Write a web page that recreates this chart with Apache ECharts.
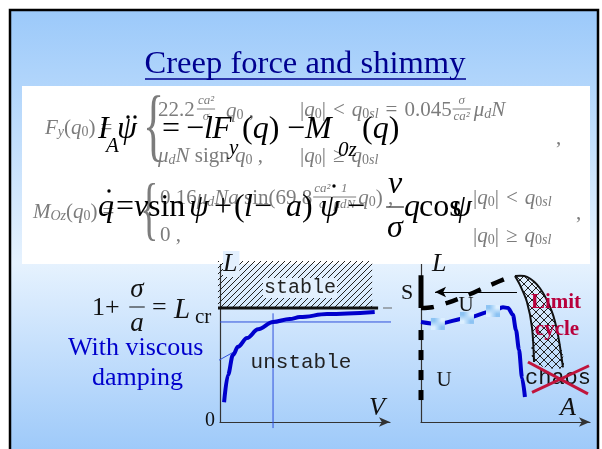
<!DOCTYPE html>
<html><head><meta charset="utf-8">
<script src="https://cdn.jsdelivr.net/npm/echarts@6/dist/echarts.min.js"></script>
<style>html,body{margin:0;padding:0;background:#fff}#c{width:602px;height:449px}</style>
</head><body><div id="c"></div>
<script>
// ---------------- data ----------------
// left diagram: stability boundary L(V)
const L_CR = 1.5;            // 1 + sigma/a
const L_DAMP = 1.316;        // level reached by the damped boundary
const V_MARK = 3.12;         // speed at which the damped boundary reaches L_DAMP
const STABLE_TOP = 2.12;
const STABLE_V_END = 8.95;
const CR_LINE_V = [-0.12, 9.3];
const REF_STUB_V = [9.59, 11.3];
const DAMP_LINE_V = [0, 11.82];
const MARK_LINE_L = [1.43, -0.08];
const dampV = [0.24, 0.47, 0.76, 1.06, 1.59, 2.24, 3.12, 4.1, 4.7, 6.3, 9.1];
const dampL = [0.26, 0.62, 0.88, 0.99, 1.105, 1.22, 1.316, 1.355, 1.38, 1.42, 1.447];
const leaderV = [-1.94, 0.88];
const leaderL = [0.58, 0.93];

// right diagram: amplitude A versus L
const stableSegL = [1.93, 1.5];
const unstableSegL = [1.21, 0.18];
const upperA = [0, 0.65, 1.6, 2.78, 4.08, 5.27];
const upperL = [1.5, 1.51, 1.57, 1.67, 1.80, 1.91];
const branchA = [0, 1.0, 2.72, 4.26, 4.85, 5.15, 5.44, 5.62, 5.8, 5.98, 6.15];
const branchL = [1.316, 1.29, 1.37, 1.46, 1.51, 1.50, 1.41, 1.21, 0.95, 0.58, 0.33];
const branchMarked = [1, 2, 3];
const arrowA = [5.68, 0.83];
const arrowL = [1.71, 1.71];
const cycleLeftA = [5.56, 5.86, 6.27, 6.57, 6.69];
const cycleLeftL = [1.92, 1.80, 1.58, 1.24, 0.79];
const cycleRightA = [8.40, 8.11, 7.75, 7.04, 6.27, 5.56];
const cycleRightL = [0.72, 1.14, 1.45, 1.76, 1.91, 1.92];
const crossA1 = [6.33, 9.88], crossL1 = [0.79, 0.37];
const crossA2 = [6.57, 9.94], crossL2 = [0.39, 0.74];

// ---------------- helpers ----------------
const SERIF = '"Liberation Serif","Times New Roman",serif';
const MONO = '"Liberation Mono","Courier New",monospace';
const mctx = document.createElement('canvas').getContext('2d');
const pts = (xs, ys) => xs.map((x, i) => [x, ys[i]]);

function fontOf(t) {
  return (t.it ? 'italic ' : '') + (t.b ? 'bold ' : '') + t.s + 'px ' + (t.f || SERIF);
}
// lays out a row of text tokens; a token may carry an absolute x (ax)
function run(x0, y, toks, color, z) {
  const els = [];
  let x = x0;
  toks.forEach(t => {
    const font = fontOf(t);
    mctx.font = font;
    const w = mctx.measureText(t.t).width;
    if (t.ax !== undefined) x = t.ax;
    x += (t.dx || 0);
    els.push({type: 'text', x: x, y: y + (t.dy || 0), z: z || 5, silent: true,
      style: {text: t.t, font: font, fill: t.c || color, align: 'left', verticalAlign: 'middle'}});
    x += w;
  });
  return {els, x};
}
function txt(x, y, text, s, color, extra) {
  extra = extra || {};
  const el = {type: 'text', x, y, z: extra.z || 5, silent: true,
    style: Object.assign({text, font: fontOf(Object.assign({s}, extra)), fill: color,
      align: extra.align || 'left', verticalAlign: 'middle'}, extra.style || {})};
  if (extra.scaleX) { el.scaleX = extra.scaleX; el.originX = 0; el.originY = 0; }
  return el;
}
function hline(x1, x2, y, color, w, z) {
  return {type: 'line', z: z || 5, silent: true, shape: {x1, y1: y, x2, y2: y},
    style: {stroke: color, lineWidth: w || 1}};
}
function dot(x, y, color, rr, z) {
  return {type: 'circle', z: z || 6, silent: true, shape: {cx: x, cy: y, r: rr || 1.7}, style: {fill: color}};
}
function frac(xc, y, num, den, s, color, gap, z) {
  const g = gap || s * 0.62;
  mctx.font = fontOf({s, it: true});
  const w = Math.max(mctx.measureText(num).width, mctx.measureText(den).width) + 2;
  return [
    txt(xc, y - g, num, s, color, {it: true, align: 'center', z}),
    hline(xc - w / 2, xc + w / 2, y, color, 1, z),
    txt(xc, y + g, den, s, color, {it: true, align: 'center', z})
  ];
}
function hatch(step, cross, color, lw) {
  const c = document.createElement('canvas');
  c.width = c.height = step;
  const g = c.getContext('2d');
  g.strokeStyle = color; g.lineWidth = lw;
  g.beginPath();
  for (let k = -1; k <= 1; k++) {
    g.moveTo(k * step - 1, step + 1); g.lineTo(k * step + step + 1, -1);
    if (cross) { g.moveTo(k * step - 1, -1); g.lineTo(k * step + step + 1, step + 1); }
  }
  g.stroke();
  return {image: c, repeat: 'repeat'};
}
function checker() {
  const c = document.createElement('canvas');
  c.width = c.height = 4;
  const g = c.getContext('2d');
  g.fillStyle = '#dcefff'; g.fillRect(0, 0, 4, 4);
  g.fillStyle = '#8cc3f3'; g.fillRect(0, 0, 2, 2); g.fillRect(2, 2, 2, 2);
  return {image: c, repeat: 'repeat'};
}
const hatchStable = hatch(6, false, '#222', 1);
const hatchCycle = hatch(8, true, '#222', 1);

// ---------------- page decoration & text ----------------
const GRAY = '#7c7c7c';
const g = [];
g.push({type: 'rect', z: 0, silent: true, shape: {x: 10, y: 10, width: 588, height: 460},
  style: {fill: new echarts.graphic.LinearGradient(0, 0, 0, 1, [
    {offset: 0, color: '#9bc9fa'}, {offset: 0.55, color: '#e6f2fe'}, {offset: 1, color: '#96c5f9'}]),
    stroke: '#000', lineWidth: 2.5}});
g.push({type: 'rect', z: 1, silent: true, shape: {x: 22, y: 86, width: 568, height: 178},
  style: {fill: '#ffffff'}});

// title
mctx.font = '30px ' + SERIF;
const titleSize = 30 * 321 / mctx.measureText('Creep force and shimmy').width;
g.push(txt(305, 64, 'Creep force and shimmy', titleSize, '#000090', {align: 'center'}));
g.push(hline(145, 466, 79, '#000090', 1.3));

// faded creep-force formulas
const S = 21, s = 14;
const q0 = [{t: 'q', it: 1, s: S}, {t: '0', s: s, dy: 4}];
const rel = (sym) => ({t: sym, s: S, dx: 7});
const q0sl = (gap) => [{t: 'q', it: 1, s: S, dx: gap}, {t: '0', s: s, dy: 4}, {t: 'sl', it: 1, s: s, dy: 4}];
g.push(...run(45, 128, [{t: 'F', it: 1, s: S}, {t: 'y', it: 1, s: s, dy: 4}, {t: '(', s: S},
  ...q0, {t: ')', s: S}, {t: '=', s: S, dx: 5}], GRAY).els);
g.push(txt(143, 130, '{', 80, GRAY, {scaleX: 0.55}));
g.push(...run(158, 110, [{t: '22.2', s: S}], GRAY).els);
g.push(...frac(206, 109, 'ca²', 'σ', 13, GRAY, 8));
g.push(...run(226, 111, [...q0, {t: ' ,', s: S}], GRAY).els);
r0 = run(300, 110, [{t: '|', s: S}, ...q0, {t: '|', s: S}, rel('<'), ...q0sl(7),
  rel('='), {t: '0.045', s: S, dx: 7}], GRAY);
g.push(...r0.els);
g.push(...frac(r0.x + 10, 109, 'σ', 'ca²', 13, GRAY, 8));
g.push(...run(r0.x + 22, 110, [{t: 'μ', it: 1, s: S}, {t: 'd', it: 1, s: s, dy: 4}, {t: 'N', it: 1, s: S}], GRAY).els);
g.push(...run(158, 156, [{t: 'μ', it: 1, s: S}, {t: 'd', it: 1, s: s, dy: 4}, {t: 'N', it: 1, s: S},
  {t: ' sign ', s: S}, ...q0, {t: ' ,', s: S}], GRAY).els);
g.push(...run(300, 156, [{t: '|', s: S}, ...q0, {t: '|', s: S}, rel('≥'), ...q0sl(7)], GRAY).els);
g.push(txt(556, 138, ',', S, GRAY));

g.push(...run(33, 212, [{t: 'M', it: 1, s: S}, {t: 'Oz', it: 1, s: s, dy: 4}, {t: '(', s: S},
  ...q0, {t: ')', s: S}, {t: '=', s: S, dx: 5}], GRAY).els);
g.push(txt(140, 214, '{', 70, GRAY, {scaleX: 0.55}));
let r = run(160, 198, [{t: '0.16', s: S}, {t: 'μ', it: 1, s: S}, {t: 'd', it: 1, s: s, dy: 4},
  {t: 'N', it: 1, s: S}, {t: 'a', it: 1, s: S}, {t: ' sin(69.8', s: S}], GRAY);
g.push(...r.els);
g.push(...frac(r.x + 10, 197, 'ca²', 'σ', 13, GRAY, 8));
g.push(...frac(r.x + 32, 197, '1', 'μdN', 13, GRAY, 8));
g.push(...run(r.x + 46, 198, [...q0, {t: ') ,', s: S}], GRAY).els);
g.push(...run(473, 198, [{t: '|', s: S}, ...q0, {t: '|', s: S}, rel('<'), ...q0sl(7)], GRAY).els);
g.push(txt(160, 235, '0 ,', S, GRAY));
g.push(...run(473, 236, [{t: '|', s: S}, ...q0, {t: '|', s: S}, rel('≥'), ...q0sl(7)], GRAY).els);
g.push(txt(576, 213, ',', S, GRAY));

// equations of motion
const K = '#000', B = 32, b = 21;
g.push(...run(98, 130, [{t: 'I', it: 1, s: B}, {t: 'A', it: 1, s: b, ax: 106, dy: 16}, {t: 'ψ', it: 1, s: B, ax: 117},
  {t: '=', s: B, ax: 162}, {t: '−', s: B, ax: 186}, {t: 'l', it: 1, s: B, ax: 204}, {t: 'F', it: 1, s: B, ax: 212},
  {t: 'y', it: 1, s: b, ax: 229, dy: 18}, {t: '(', s: B, ax: 242}, {t: 'q', it: 1, s: B}, {t: ')', s: B},
  {t: '−', s: B, ax: 287}, {t: 'M', it: 1, s: B, ax: 305}, {t: '0z', it: 1, s: b, ax: 338, dy: 20},
  {t: '(', s: B, ax: 362}, {t: 'q', it: 1, s: B}, {t: ')', s: B}], K, 6).els);
g.push(dot(128, 117, K), dot(135, 117, K));
g.push(...run(98, 208, [{t: 'q', it: 1, s: B}, {t: '=', s: B, ax: 116}, {t: 'v', it: 1, s: B, ax: 134},
  {t: 'sin', s: B, ax: 148}, {t: 'ψ', it: 1, s: B, ax: 189}, {t: '+', s: B, ax: 214}, {t: '(', s: B, ax: 234},
  {t: 'l', it: 1, s: B, ax: 244}, {t: '−', s: B, ax: 254}, {t: 'a', it: 1, s: B, ax: 286}, {t: ')', s: B},
  {t: 'ψ', it: 1, s: B, ax: 320}, {t: '−', s: B, ax: 347}], K, 6).els);
g.push(dot(109, 191, K), dot(334, 186, K));
g.push(...frac(395, 207, 'v', 'σ', B, K, 22, 6));
g.push(...run(404, 208, [{t: 'q', it: 1, s: B}, {t: 'cos', s: B, ax: 419}, {t: 'ψ', it: 1, s: B, ax: 452}], K, 6).els);

// left diagram labels
const KNOCK = '#e3f0fe';
g.push(txt(223, 264, 'L', 26, '#111', {it: 1, z: 10, style: {backgroundColor: KNOCK, padding: [0, 2, 0, 0]}}));
g.push(txt(300, 288, 'stable', 20, '#222', {f: MONO, align: 'center', z: 10,
  style: {backgroundColor: KNOCK, padding: [0, 1]}}));
g.push(txt(301, 362, 'unstable', 21, '#222', {f: MONO, align: 'center', z: 10}));
g.push(txt(210, 421, '0', 20, '#111', {align: 'center'}));
g.push(txt(377, 408, 'V', 26, '#111', {it: 1, align: 'center'}));
g.push(txt(92, 308, '1+', 26, '#111'));
g.push(...frac(137, 307, 'σ', 'a', 27, '#111', 17));
g.push(txt(152, 308, '=', 26, '#111'));
g.push(txt(174, 310, 'L', 29, '#111', {it: 1}));
g.push(txt(195, 317, 'cr', 21, '#111'));
g.push(txt(68, 348, 'With viscous', 26, '#0000cc'));
g.push(txt(92, 378, 'damping', 26, '#0000cc'));

// right diagram labels
g.push(txt(432, 264, 'L', 26, '#111', {it: 1, z: 10}));
g.push(txt(407, 293, 'S', 22, '#111', {align: 'center'}));
g.push(txt(466, 305, 'U', 21, '#111', {align: 'center'}));
g.push(txt(444, 380, 'U', 21, '#111', {align: 'center'}));
g.push(txt(568, 408, 'A', 26, '#111', {it: 1, align: 'center'}));
g.push(txt(556, 303, 'Limit', 21, '#b8003c', {b: 1, align: 'center', z: 10}));
g.push(txt(557, 330, 'cycle', 21, '#b8003c', {b: 1, align: 'center', z: 10}));
g.push(txt(558, 378, 'chaos', 22, '#111', {f: MONO, align: 'center', z: 3}));

// ---------------- chart ----------------
function axis(i, max) {
  return {type: 'value', gridIndex: i, min: 0, max,
    axisLine: {show: true, onZero: true, symbol: ['none', 'arrow'], symbolSize: [7, 11],
      lineStyle: {color: '#333', width: 1.2}},
    axisTick: {show: false}, axisLabel: {show: false}, splitLine: {show: false}};
}
const plain = (xi, data, color, width, extra) => Object.assign({
  type: 'line', xAxisIndex: xi, yAxisIndex: xi, data, symbol: 'none', silent: true, clip: false,
  lineStyle: {color, width, cap: 'butt'}}, extra || {});

const chart = echarts.init(document.getElementById('c'));
chart.setOption({
  animation: false,
  grid: [{left: 220, top: 251, width: 170, height: 171}, {left: 421, top: 251, width: 169, height: 171}],
  xAxis: [axis(0, 10), axis(1, 10)],
  yAxis: [axis(0, 2.25), axis(1, 2.25)],
  graphic: {elements: g},
  series: [
    // stable (hatched) region above the critical line
    {type: 'custom', xAxisIndex: 0, yAxisIndex: 0, data: [[0, 0]], clip: false, z: 1, silent: true,
      renderItem: (p, api) => ({type: 'polygon',
        shape: {points: [[-0.12, L_CR], [STABLE_V_END, L_CR], [STABLE_V_END, STABLE_TOP], [-0.12, STABLE_TOP]]
          .map(d => api.coord(d))},
        style: {fill: hatchStable, stroke: null}})},
    plain(0, [[CR_LINE_V[0], L_CR], [CR_LINE_V[1], L_CR]], '#111', 3),
    plain(0, [[REF_STUB_V[0], L_CR], [REF_STUB_V[1], L_CR]], '#666', 1.2),
    plain(0, [[DAMP_LINE_V[0], L_DAMP], [DAMP_LINE_V[1], L_DAMP]], '#2f4fdc', 1),
    plain(0, [[V_MARK, MARK_LINE_L[0]], [V_MARK, MARK_LINE_L[1]]], '#2f4fdc', 1),
    plain(0, pts(leaderV, leaderL), '#2f4fdc', 1),
    plain(0, pts(dampV, dampL), '#0000cc', 4, {smooth: 0.35, smoothMonotone: 'x', z: 3}),

    // right diagram
    plain(1, [[0, stableSegL[0]], [0, stableSegL[1]]], '#000', 5, {z: 4}),
    plain(1, [[0, unstableSegL[0]], [0, unstableSegL[1]]], '#000', 5,
      {z: 4, lineStyle: {color: '#000', width: 5, type: [10, 10], cap: 'butt'}}),
    plain(1, pts(upperA, upperL), '#000', 4.5,
      {smooth: 0.3, lineStyle: {color: '#000', width: 4.5, type: [13, 12], cap: 'butt'}}),
    plain(1, [], '#000', 1, {markLine: {silent: true, symbol: ['none', 'arrow'], symbolSize: [8, 11],
      label: {show: false}, lineStyle: {color: '#000', width: 1.2, type: 'solid'},
      data: [[{coord: [arrowA[0], arrowL[0]]}, {coord: [arrowA[1], arrowL[1]]}]]}}),
    plain(1, pts(branchA, branchL), '#0000cc', 4, {smooth: 0.3, smoothMonotone: 'x', z: 3}),
    {type: 'scatter', xAxisIndex: 1, yAxisIndex: 1, silent: true, z: 4, symbol: 'rect', symbolSize: [14, 12],
      itemStyle: {color: checker(), opacity: 1},
      data: branchMarked.map(i => [branchA[i], branchL[i]])},
    // limit cycle band
    {type: 'custom', xAxisIndex: 1, yAxisIndex: 1, data: [[0, 0]], clip: false, z: 2, silent: true,
      renderItem: (p, api) => {
        const left = pts(cycleLeftA, cycleLeftL).map(d => api.coord(d));
        const right = pts(cycleRightA, cycleRightL).map(d => api.coord(d));
        return {type: 'group', children: [
          {type: 'polygon', shape: {points: left.concat(right), smooth: 0.3},
            style: {fill: hatchCycle, stroke: null}},
          {type: 'polyline', shape: {points: left, smooth: 0.3}, style: {stroke: '#111', lineWidth: 2, fill: null}},
          {type: 'polyline', shape: {points: right, smooth: 0.3}, style: {stroke: '#111', lineWidth: 2, fill: null}}
        ]};
      }},
    plain(1, pts(crossA1, crossL1), '#c0143c', 3, {z: 6}),
    plain(1, pts(crossA2, crossL2), '#c0143c', 3, {z: 6})
  ]
});
</script></body></html>
